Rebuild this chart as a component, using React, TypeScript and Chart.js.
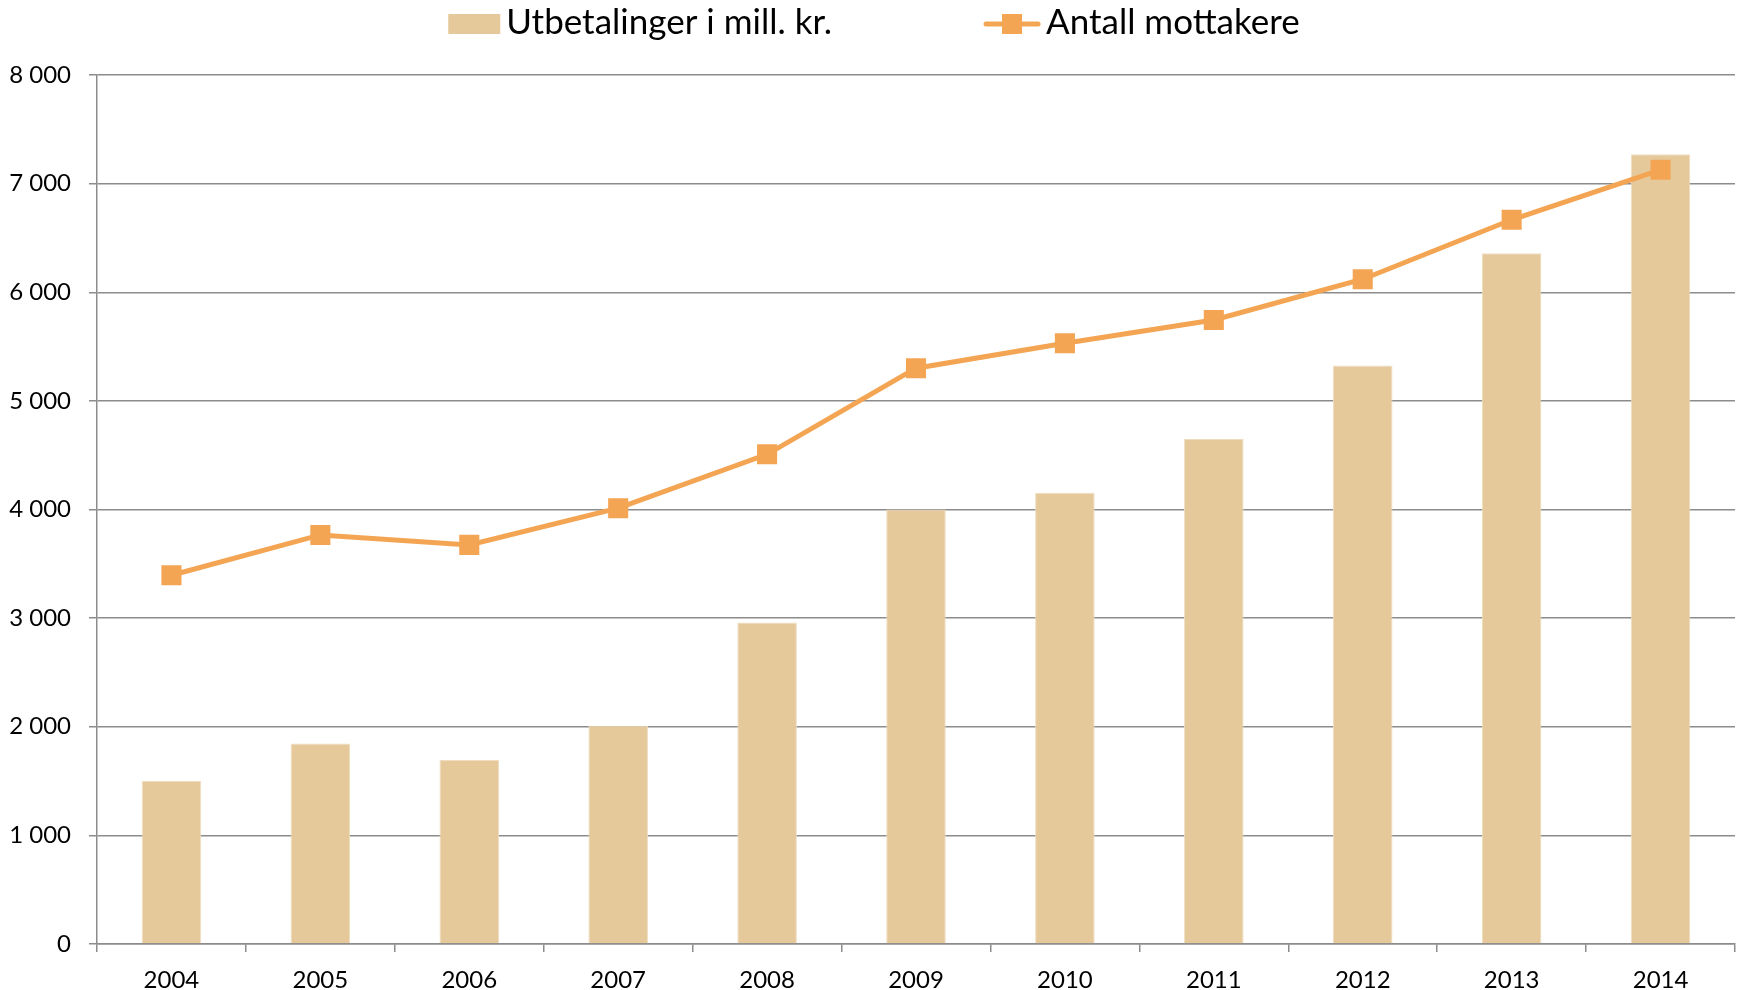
import React, { useEffect, useRef } from "react";
import { Chart, registerables } from "chart.js";

Chart.register(...registerables);

const years = ["2004", "2005", "2006", "2007", "2008", "2009", "2010", "2011", "2012", "2013", "2014"];
const payments = [1500, 1845, 1695, 2010, 2960, 4000, 4155, 4650, 5325, 6360, 7270];
const recipients = [3395, 3766, 3674, 4012, 4508, 5301, 5530, 5745, 6120, 6667, 7127];
const seriesNames = ["Utbetalinger i mill. kr.", "Antall mottakere"];
const yMin = 0;
const yMax = 8000;
const yStep = 1000;

const BAR_COLOR = "#E5C99B";
const BAR_EDGE = "#EEDDBF";
const LINE_COLOR = "#F4A553";
const GRID_COLOR = "#8C8C8C";
const FONT = "Lato, 'Noto Sans', sans-serif";

const formatThousands = (v: number) => String(v).replace(/\B(?=(\d{3})+(?!\d))/g, " ");

const legendPlugin = {
  id: "excelLegend",
  afterDraw(chart: any) {
    const ctx: CanvasRenderingContext2D = chart.ctx;
    ctx.save();
    ctx.font = `35px ${FONT}`;
    const t1 = ctx.measureText(seriesNames[0]).width;
    const t2 = ctx.measureText(seriesNames[1]).width;
    const box = 52;
    const lineW = 56;
    const gapText = 6;
    const gapItems = 152;
    const total = box + gapText + t1 + gapItems + lineW + gapText + t2;
    let x = chart.width / 2 + 4 - total / 2;
    const cy = 24;
    const baseline = 34;
    // item 1: bar swatch
    ctx.fillStyle = BAR_COLOR;
    ctx.fillRect(x, cy - 10, box, 20);
    x += box + gapText;
    ctx.fillStyle = "#000";
    ctx.textAlign = "left";
    ctx.textBaseline = "alphabetic";
    ctx.fillText(seriesNames[0], x, baseline);
    x += t1 + gapItems;
    // item 2: line with square marker
    ctx.strokeStyle = LINE_COLOR;
    ctx.lineWidth = 5;
    ctx.lineCap = "round";
    ctx.beginPath();
    ctx.moveTo(x + 2, cy);
    ctx.lineTo(x + lineW - 2, cy);
    ctx.stroke();
    ctx.fillStyle = LINE_COLOR;
    ctx.fillRect(x + lineW / 2 - 10, cy - 10, 20, 20);
    x += lineW + gapText;
    ctx.fillStyle = "#000";
    ctx.fillText(seriesNames[1], x, baseline);
    ctx.restore();
  },
};

export default function App() {
  const ref = useRef<HTMLCanvasElement | null>(null);

  useEffect(() => {
    if (!ref.current) return;
    const chart = new Chart(ref.current, {
      type: "bar",
      data: {
        labels: years,
        datasets: [
          {
            type: "line",
            label: seriesNames[1],
            data: recipients,
            borderColor: LINE_COLOR,
            backgroundColor: LINE_COLOR,
            borderWidth: 5,
            pointStyle: "rect",
            pointRadius: 14.2,
            pointHoverRadius: 14.2,
            pointBackgroundColor: LINE_COLOR,
            pointBorderWidth: 0,
            tension: 0,
            order: 1,
          } as any,
          {
            type: "bar",
            label: seriesNames[0],
            data: payments,
            backgroundColor: BAR_COLOR,
            borderColor: BAR_EDGE,
            borderWidth: 1,
            categoryPercentage: 1,
            barPercentage: 0.4,
            order: 2,
          },
        ],
      },
      options: {
        animation: false,
        responsive: false,
        maintainAspectRatio: false,
        devicePixelRatio: 1,
        layout: { autoPadding: false, padding: { top: 75, left: 0, right: 5, bottom: 0 } },
        plugins: {
          legend: { display: false },
          tooltip: { enabled: false },
        },
        scales: {
          x: {
            offset: true,
            grid: {
              offset: true,
              drawOnChartArea: false,
              drawTicks: true,
              tickLength: 8,
              color: GRID_COLOR,
              lineWidth: 1.5,
            },
            border: { display: true, color: GRID_COLOR, width: 1.5 },
            ticks: {
              color: "#000",
              padding: 14,
              font: { family: FONT, size: 24 },
              maxRotation: 0,
              autoSkip: false,
            },
            afterFit: (scale: any) => {
              scale.height = 46;
              scale.paddingLeft = 0;
              scale.paddingRight = 0;
            },
          },
          y: {
            min: yMin,
            max: yMax,
            grid: {
              color: GRID_COLOR,
              lineWidth: 1.5,
              tickLength: 8,
              drawTicks: true,
            },
            border: { display: true, color: GRID_COLOR, width: 1.5 },
            ticks: {
              stepSize: yStep,
              color: "#000",
              padding: 18,
              font: { family: FONT, size: 24 },
              callback: (v: any) => formatThousands(Number(v)),
            },
            afterFit: (scale: any) => {
              scale.width = 97;
              scale.paddingTop = 0;
              scale.paddingBottom = 0;
            },
          },
        },
      },
      plugins: [legendPlugin],
    });
    return () => chart.destroy();
  }, []);

  return (
    <div style={{ position: "absolute", left: 0, top: 0, width: 1740, height: 990, background: "#fff" }}>
      <canvas ref={ref} width={1740} height={990} style={{ display: "block", width: 1740, height: 990 }} />
    </div>
  );
}
